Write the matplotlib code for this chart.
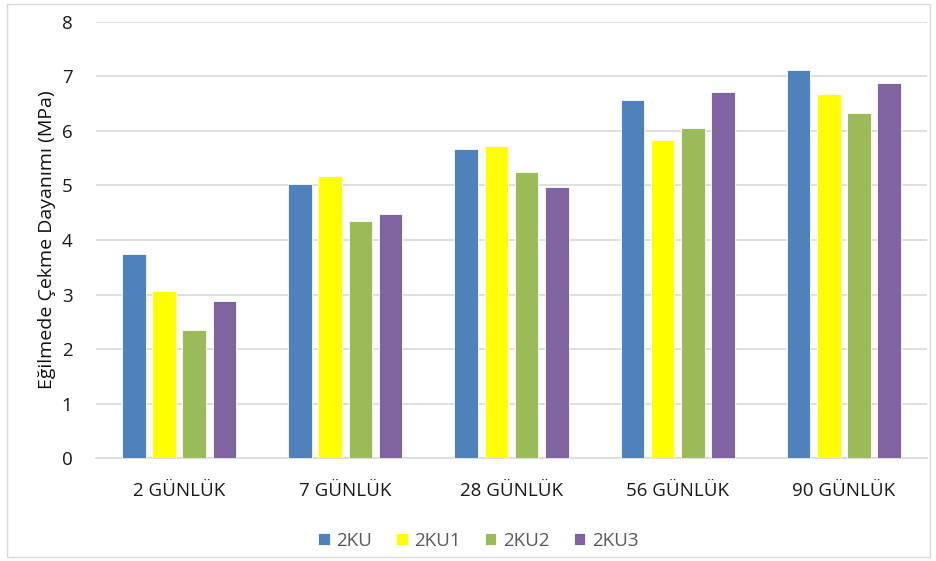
import matplotlib.pyplot as plt
import numpy as np
from matplotlib.patches import Rectangle

# values
categories = ['2 GÜNLÜK', '7 GÜNLÜK', '28 GÜNLÜK', '56 GÜNLÜK', '90 GÜNLÜK']
series_names = ['2KU', '2KU1', '2KU2', '2KU3']
ku = [3.74, 5.03, 5.66, 6.56, 7.11]
ku1 = [3.07, 5.17, 5.73, 5.84, 6.68]
ku2 = [2.36, 4.35, 5.25, 6.05, 6.32]
ku3 = [2.88, 4.47, 4.98, 6.71, 6.88]
colors = ['#4F81BD', '#FFFF00', '#9BBB59', '#8064A2']

plt.rcParams['font.family'] = ['Open Sans', 'DejaVu Sans']

fig = plt.figure(figsize=(9.37, 5.61), dpi=100)
W, H = 937, 561
ax = fig.add_axes([96 / W, 1 - 458.3 / H, (927 - 96) / W, (458.3 - 21.7) / H])

x = np.arange(len(categories))
step = 0.182
width = 0.142
for i, (name, vals) in enumerate(zip(series_names, [ku, ku1, ku2, ku3])):
    ax.bar(x + (i - 1.5) * step, vals, width, color=colors[i], label=name,
           edgecolor='#ffffff', linewidth=0.6, zorder=3)

ax.set_xlim(-0.5, len(categories) - 0.5)
ax.set_ylim(0, 8)
ax.set_yticks(range(0, 9))
ax.set_xticks(x)
ax.set_xticklabels(categories)
ax.grid(axis='y', color='#d9d9d9', linewidth=1.2, zorder=0)
for s in ['top', 'right', 'left']:
    ax.spines[s].set_visible(False)
ax.spines['bottom'].set_color('#d9d9d9')
ax.spines['bottom'].set_linewidth(1.2)
ax.tick_params(axis='both', length=0, labelsize=13.5, labelcolor='#1a1a1a')
ax.tick_params(axis='y', pad=17)
ax.tick_params(axis='x', pad=17)
ax.set_ylabel('Eğilmede Çekme Dayanımı (MPa)', fontsize=14, color='#111111', labelpad=4)

leg = ax.legend(loc='upper center', bbox_to_anchor=(0.46, -0.13), ncol=4, frameon=False,
                fontsize=13.5, handlelength=0.6, handleheight=0.6, handletextpad=0.35,
                columnspacing=1.3)
for t in leg.get_texts():
    t.set_color('#595959')

fig.patches.append(Rectangle((7 / W, 4 / H), (930 - 7) / W, (557 - 4) / H,
                             transform=fig.transFigure, fill=False,
                             edgecolor='#d9d9d9', linewidth=1))

fig.savefig('out.png', dpi=100)
